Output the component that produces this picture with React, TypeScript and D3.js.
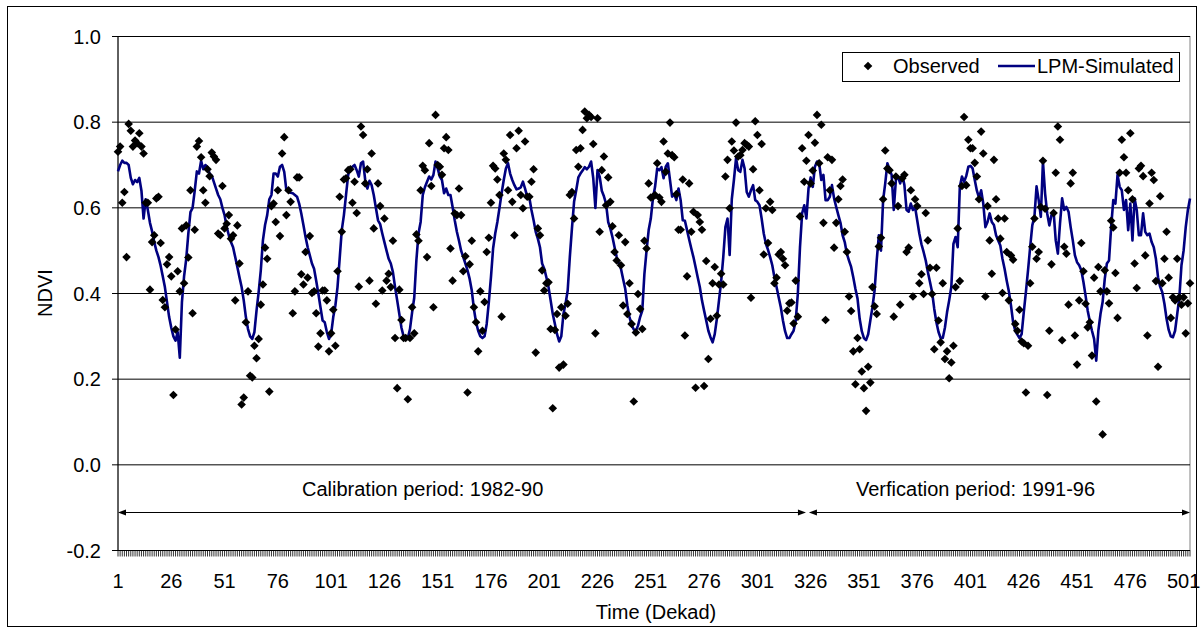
import React from 'react';
import * as d3 from 'd3';

// NDVI observed per dekad (1..504)
const observed: number[] = [
  0.731, 0.743, 0.612, 0.637, 0.485, 0.796, 0.780, 0.743, 0.757, 0.751,
  0.774, 0.743, 0.727, 0.612, 0.612, 0.409, 0.520, 0.536, 0.622, 0.626,
  0.518, 0.385, 0.368, 0.468, 0.485, 0.440, 0.163, 0.316, 0.452, 0.405,
  0.552, 0.424, 0.559, 0.484, 0.641, 0.354, 0.549, 0.743, 0.756, 0.718,
  0.641, 0.612, 0.690, 0.674, 0.729, 0.720, 0.712,
  0.540, 0.536, 0.651, 0.552, 0.563, 0.583, 0.528, 0.536, 0.384, 0.559,
  0.470, 0.141, 0.157, 0.333, 0.405, 0.208, 0.204, 0.278, 0.249, 0.294,
  0.374, 0.421, 0.507, 0.481, 0.171, 0.604, 0.610, 0.567, 0.641, 0.534,
  0.727, 0.765, 0.583, 0.641, 0.614, 0.354, 0.405, 0.671, 0.671, 0.445,
  0.421, 0.497, 0.437, 0.534, 0.401, 0.405, 0.354, 0.276, 0.307, 0.407,
  0.407, 0.384, 0.265, 0.307, 0.362, 0.278, 0.452, 0.626, 0.544, 0.666,
  0.669, 0.688, 0.690, 0.612, 0.661, 0.588, 0.416, 0.790, 0.770, 0.657,
  0.690, 0.430, 0.727, 0.552, 0.376, 0.657, 0.604, 0.407, 0.575, 0.430,
  0.446, 0.415, 0.523, 0.296, 0.179, 0.409, 0.338, 0.296, 0.296, 0.153,
  0.296, 0.368, 0.307, 0.538, 0.523, 0.641, 0.698, 0.688, 0.485, 0.751,
  0.651, 0.368, 0.817, 0.700, 0.696, 0.677, 0.739, 0.765, 0.735, 0.505,
  0.430, 0.587, 0.583, 0.645, 0.583, 0.452, 0.487, 0.169, 0.468, 0.523,
  0.368, 0.333, 0.265, 0.405, 0.313, 0.380, 0.497, 0.530, 0.612, 0.698,
  0.692, 0.666, 0.630, 0.346, 0.727, 0.712, 0.641, 0.770, 0.614, 0.536,
  0.739, 0.780, 0.630, 0.599, 0.755, 0.626, 0.626, 0.661, 0.690, 0.262,
  0.552, 0.536, 0.454, 0.407, 0.424, 0.426, 0.317, 0.132, 0.315, 0.352,
  0.227, 0.368, 0.234, 0.348, 0.376, 0.630, 0.637, 0.575, 0.735, 0.696,
  0.739, 0.782, 0.825, 0.809, 0.817, 0.812, 0.749, 0.307, 0.809, 0.544,
  0.688, 0.720, 0.606, 0.671, 0.614, 0.557, 0.497, 0.477, 0.536, 0.466,
  0.372, 0.520, 0.352, 0.424, 0.329, 0.148, 0.309, 0.399, 0.364,
  0.317, 0.523, 0.505, 0.657, 0.624, 0.626, 0.630, 0.704, 0.624, 0.614,
  0.755, 0.684, 0.727, 0.799, 0.723, 0.718, 0.632, 0.549, 0.549, 0.666,
  0.302, 0.440, 0.657, 0.544, 0.591, 0.180, 0.583, 0.567, 0.549, 0.184,
  0.476, 0.247, 0.341, 0.424, 0.462, 0.348, 0.421, 0.446, 0.421, 0.673,
  0.712, 0.599, 0.755, 0.734, 0.799, 0.720, 0.723, 0.735, 0.751, 0.747,
  0.743,
  0.390, 0.690, 0.802, 0.770, 0.641, 0.749, 0.491, 0.599, 0.518, 0.614,
  0.595, 0.424, 0.437, 0.491, 0.497, 0.481, 0.466, 0.360, 0.377, 0.379,
  0.330, 0.430, 0.346, 0.580, 0.739, 0.661, 0.710, 0.770, 0.657, 0.687,
  0.752, 0.817, 0.704, 0.794, 0.565, 0.338, 0.718, 0.641, 0.712, 0.507,
  0.565, 0.620, 0.651, 0.666, 0.544, 0.497, 0.393, 0.359, 0.265,
  0.188, 0.296, 0.270, 0.218, 0.179, 0.126, 0.229, 0.192, 0.415, 0.370,
  0.352, 0.510, 0.530, 0.620, 0.734, 0.692, 0.688, 0.657, 0.346, 0.673,
  0.604, 0.374, 0.669, 0.677, 0.497, 0.507, 0.641, 0.393, 0.620, 0.604,
  0.424, 0.445, 0.399, 0.588, 0.524, 0.460, 0.399, 0.270, 0.460, 0.337,
  0.286, 0.424, 0.247, 0.265, 0.202, 0.239, 0.278, 0.415, 0.552, 0.429,
  0.651,
  0.812, 0.653, 0.759, 0.739, 0.739, 0.705, 0.673, 0.620, 0.778, 0.727,
  0.393, 0.604, 0.524, 0.446, 0.712, 0.620, 0.575, 0.528, 0.401, 0.575,
  0.497, 0.384, 0.489, 0.479, 0.329, 0.313, 0.362, 0.288, 0.284, 0.169,
  0.278, 0.424, 0.509, 0.575, 0.481, 0.497, 0.602, 0.710, 0.598, 0.163,
  0.313, 0.468, 0.588, 0.682, 0.790, 0.759, 0.291, 0.509, 0.493,
  0.374, 0.657, 0.682, 0.302, 0.234, 0.384, 0.518, 0.452, 0.376, 0.321,
  0.333, 0.255, 0.437, 0.148, 0.462, 0.405, 0.071, 0.454, 0.405, 0.377,
  0.570, 0.554, 0.448, 0.343, 0.682, 0.759, 0.718, 0.682, 0.641, 0.774,
  0.620, 0.470, 0.413, 0.692, 0.698, 0.674, 0.489, 0.302, 0.610, 0.682,
  0.665, 0.429, 0.229, 0.627, 0.424, 0.481, 0.544, 0.437, 0.343, 0.391,
  0.384, 0.481, 0.391, 0.374, 0.391, 0.307, 0.377, 0.424,
];

// LPM-simulated NDVI per dekad (1..504)
const simulated: number[] = [
  0.685, 0.70, 0.71, 0.705, 0.705, 0.70, 0.67, 0.655, 0.665, 0.66,
  0.67, 0.64, 0.575, 0.62, 0.595, 0.565, 0.545, 0.52, 0.50, 0.485,
  0.465, 0.44, 0.415, 0.38, 0.345, 0.32, 0.30, 0.29, 0.31, 0.25,
  0.38, 0.44, 0.48, 0.54, 0.59, 0.60, 0.64, 0.685, 0.68, 0.71,
  0.69, 0.70, 0.695, 0.68, 0.675, 0.66, 0.645, 0.63, 0.62, 0.60,
  0.583, 0.555, 0.536, 0.52, 0.508, 0.485, 0.462, 0.438, 0.415, 0.384,
  0.345, 0.317, 0.30, 0.294, 0.31, 0.36, 0.403, 0.454, 0.524, 0.56,
  0.583, 0.62, 0.63, 0.68, 0.68, 0.673, 0.696, 0.70, 0.684, 0.641,
  0.637, 0.635, 0.634, 0.63, 0.626, 0.61, 0.587, 0.56, 0.532, 0.508,
  0.489, 0.47, 0.458, 0.43, 0.40, 0.368, 0.337,
  0.333, 0.31, 0.294, 0.305, 0.345, 0.372, 0.415, 0.481, 0.548, 0.583,
  0.63, 0.677, 0.692, 0.696, 0.70, 0.688, 0.673, 0.704, 0.708, 0.665,
  0.645, 0.663, 0.653, 0.63, 0.60, 0.571, 0.562, 0.54, 0.52, 0.50,
  0.481, 0.47, 0.45, 0.415, 0.384, 0.352, 0.32, 0.30, 0.294, 0.296,
  0.317, 0.356, 0.39, 0.477, 0.54, 0.567, 0.63, 0.648, 0.661, 0.673,
  0.666, 0.677, 0.708, 0.692, 0.673, 0.665, 0.634, 0.645, 0.63, 0.63,
  0.602, 0.571, 0.544, 0.523, 0.50, 0.485, 0.47, 0.454, 0.434, 0.407,
  0.364, 0.333, 0.313, 0.30, 0.296, 0.30, 0.329, 0.38, 0.438, 0.505,
  0.54, 0.567, 0.60, 0.634, 0.665, 0.692, 0.704, 0.68, 0.665, 0.653,
  0.643, 0.645, 0.648, 0.661, 0.645, 0.626, 0.624, 0.595, 0.571, 0.544,
  0.528, 0.508, 0.47, 0.458, 0.438, 0.415, 0.384, 0.352, 0.329, 0.305,
  0.288, 0.30, 0.352, 0.376, 0.407, 0.485, 0.552, 0.614, 0.641, 0.671,
  0.68, 0.687, 0.695, 0.69, 0.696, 0.708, 0.669, 0.60, 0.688, 0.673,
  0.64, 0.627, 0.61, 0.567, 0.552, 0.532, 0.508, 0.485, 0.47, 0.458,
  0.434, 0.411, 0.372, 0.345, 0.327, 0.316, 0.313, 0.325, 0.345,
  0.36, 0.446, 0.50, 0.548, 0.575, 0.622, 0.649, 0.692, 0.688, 0.695,
  0.669, 0.696, 0.704, 0.665, 0.626, 0.632, 0.618, 0.645, 0.618, 0.571,
  0.57, 0.548, 0.526, 0.505, 0.485, 0.462, 0.438, 0.415, 0.384, 0.36,
  0.337, 0.313, 0.298, 0.286, 0.305, 0.341, 0.384, 0.427, 0.485, 0.555,
  0.575, 0.49, 0.62, 0.665, 0.716, 0.688, 0.684, 0.712, 0.692, 0.637,
  0.626, 0.641, 0.653, 0.618, 0.614, 0.606, 0.575, 0.54, 0.516, 0.502,
  0.485, 0.466, 0.438, 0.415, 0.391, 0.368, 0.337, 0.312, 0.296, 0.296,
  0.305, 0.313, 0.337, 0.40, 0.508, 0.587, 0.606, 0.575, 0.645, 0.671,
  0.649, 0.696, 0.708, 0.704, 0.665, 0.677, 0.618, 0.618, 0.626, 0.653,
  0.622, 0.602, 0.583, 0.565, 0.536, 0.52, 0.493, 0.477, 0.462, 0.438,
  0.411, 0.388, 0.341, 0.312, 0.296, 0.291, 0.305, 0.337, 0.368, 0.407,
  0.477, 0.536, 0.50, 0.618, 0.657, 0.704, 0.69, 0.677, 0.595, 0.665,
  0.673, 0.657, 0.677, 0.653, 0.595, 0.591, 0.61, 0.595, 0.602, 0.571,
  0.54, 0.515, 0.497, 0.477, 0.45, 0.427, 0.403, 0.364, 0.333, 0.31,
  0.296, 0.296, 0.32, 0.356, 0.384, 0.415, 0.516, 0.532, 0.508, 0.649,
  0.673, 0.661, 0.674, 0.696, 0.698, 0.692, 0.665, 0.64, 0.624, 0.641,
  0.61, 0.555, 0.567, 0.587, 0.567, 0.56, 0.536, 0.524, 0.512, 0.481,
  0.458, 0.43, 0.405, 0.372, 0.333, 0.313, 0.304, 0.296, 0.305, 0.356,
  0.403, 0.454, 0.508, 0.559, 0.579, 0.65, 0.618, 0.579, 0.708, 0.634,
  0.587, 0.559, 0.583, 0.591, 0.524, 0.493, 0.563, 0.622, 0.595,
  0.602, 0.591, 0.555, 0.524, 0.489, 0.473, 0.466, 0.454, 0.427, 0.395,
  0.36, 0.335, 0.313, 0.294, 0.243, 0.313, 0.352, 0.38, 0.434, 0.47,
  0.477, 0.555, 0.618, 0.61, 0.677, 0.649, 0.641, 0.595, 0.618, 0.548,
  0.61, 0.524, 0.622, 0.595, 0.536, 0.536, 0.587, 0.544, 0.536, 0.54,
  0.52, 0.508, 0.481, 0.438, 0.416, 0.403, 0.376, 0.341, 0.315, 0.30,
  0.298, 0.313, 0.352, 0.391, 0.466, 0.50, 0.555, 0.595, 0.622,
];

const xTickLabels = [1, 26, 51, 76, 101, 126, 151, 176, 201, 226, 251, 276, 301, 326, 351, 376, 401, 426, 451, 476, 501];
const yTicks = [-0.2, 0.0, 0.2, 0.4, 0.6, 0.8, 1.0];
const periods = [
  { label: 'Calibration period: 1982-90', start: 1, end: 324.5 },
  { label: 'Verfication period: 1991-96', start: 324.5, end: 504 },
];
const seriesNames = ['Observed', 'LPM-Simulated'];

const FONT = '"Liberation Sans", Arial, Helvetica, sans-serif';
const NAVY = '#000080';

export default function App() {
  const nCat = Math.max(observed.length, simulated.length);
  const x = d3.scaleLinear().domain([1, 504]).range([118, 1190]);
  const y = d3.scaleLinear().domain([-0.2, 1.0]).range([550.5, 36.5]);
  const line = d3
    .line<number>()
    .x((_, i) => x(i + 1))
    .y((d) => y(d));
  const diamond = (cx: number, cy: number, r: number) =>
    `M${cx},${cy - r}L${cx + r},${cy}L${cx},${cy + r}L${cx - r},${cy}Z`;
  const left = x(1);
  const right = x(504);
  const top = y(1.0);
  const bottom = y(-0.2);
  const arrowY = 512.5;
  const cats = d3.range(1, nCat + 1);

  return (
    <svg
      width={1203}
      height={632}
      style={{ position: 'absolute', left: 0, top: 0, background: '#fff' }}
      fontFamily={FONT}
    >
      <rect x={0} y={0} width={1203} height={632} fill="#fff" />
      <rect x={7.5} y={6.5} width={1189} height={620} fill="none" stroke="#000" strokeWidth={1} />
      {/* plot area */}
      <rect x={left} y={top} width={right - left} height={bottom - top} fill="#fff" stroke="#808080" strokeWidth={1} />
      {/* gridlines */}
      {yTicks.filter((t) => t > -0.2).map((t) => (
        <line key={'g' + t} x1={left} x2={right} y1={y(t)} y2={y(t)} stroke="#000" strokeWidth={1} />
      ))}
      {/* y axis */}
      <line x1={left} x2={left} y1={top} y2={bottom} stroke="#000" strokeWidth={1} />
      {yTicks.map((t) => (
        <g key={'yt' + t}>
          <line x1={left - 6} x2={left} y1={y(t)} y2={y(t)} stroke="#000" strokeWidth={1} />
          <text x={101} y={y(t) + 7} textAnchor="end" fontSize={20} fill="#000">
            {t.toFixed(1)}
          </text>
        </g>
      ))}
      {/* x axis */}
      <line x1={left} x2={right} y1={bottom} y2={bottom} stroke="#000" strokeWidth={1} />
      {cats.map((c) => (
        <line key={'xt' + c} x1={x(c)} x2={x(c)} y1={bottom} y2={bottom + 6} stroke="#000" strokeWidth={0.8} />
      ))}
      {xTickLabels.map((c) => (
        <text key={'xl' + c} x={x(c)} y={588} textAnchor="middle" fontSize={20} fill="#000">
          {c}
        </text>
      ))}
      {/* axis titles */}
      <text x={0} y={0} transform={`translate(52,293) rotate(-90)`} textAnchor="middle" fontSize={20} fill="#000">
        NDVI
      </text>
      <text x={656} y={619} textAnchor="middle" fontSize={20} fill="#000">
        Time (Dekad)
      </text>
      {/* period annotations */}
      {periods.map((p, i) => {
        const x1 = x(p.start) + (i === 0 ? 0 : 1.5);
        const x2 = x(p.end) - (i === 0 ? 1.5 : 0);
        return (
          <g key={'p' + i}>
            <line x1={x1 + 6} x2={x2 - 6} y1={arrowY} y2={arrowY} stroke="#000" strokeWidth={1} />
            <path d={`M${x1},${arrowY}L${x1 + 8},${arrowY - 3}L${x1 + 8},${arrowY + 3}Z`} fill="#000" />
            <path d={`M${x2},${arrowY}L${x2 - 8},${arrowY - 3}L${x2 - 8},${arrowY + 3}Z`} fill="#000" />
          </g>
        );
      })}
      <text x={302} y={496} fontSize={20} fill="#000">
        {periods[0].label}
      </text>
      <text x={856} y={496} fontSize={20} fill="#000">
        {periods[1].label}
      </text>
      {/* simulated line */}
      <path d={line(simulated) || ''} fill="none" stroke={NAVY} strokeWidth={2.6} strokeLinejoin="round" />
      {/* observed markers */}
      {observed.map((v, i) => (
        <path key={'o' + i} d={diamond(x(i + 1), y(v), 4.3)} fill="#000" />
      ))}
      {/* legend */}
      <rect x={842.5} y={52.5} width={337} height={29} fill="#fff" stroke="#000" strokeWidth={1} />
      <path d={diamond(868, 66, 4.3)} fill="#000" />
      <text x={893} y={73} fontSize={20} fill="#000">
        {seriesNames[0]}
      </text>
      <line x1={998} x2={1035} y1={66} y2={66} stroke={NAVY} strokeWidth={2.6} />
      <text x={1037} y={73} fontSize={20} fill="#000">
        {seriesNames[1]}
      </text>
    </svg>
  );
}
